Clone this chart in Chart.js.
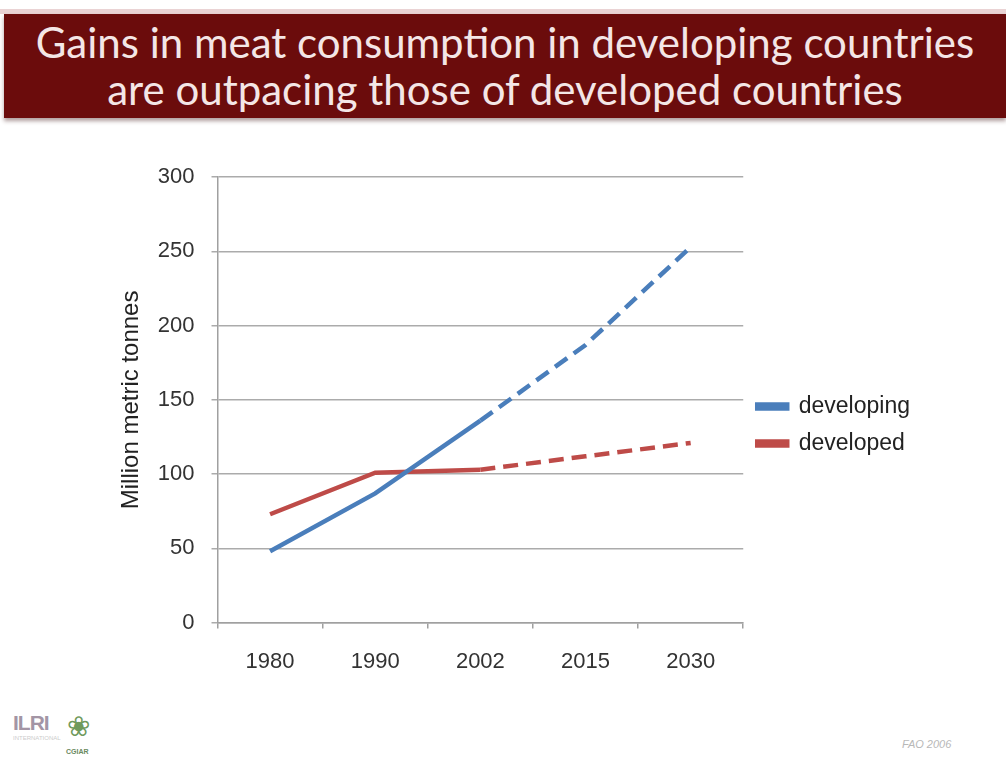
<!DOCTYPE html>
<html>
<head>
<meta charset="utf-8">
<script src="https://cdn.jsdelivr.net/npm/chart.js@4.4.0/dist/chart.umd.min.js"></script>
<style>
  body { margin: 0; width: 1006px; height: 765px; background: #fff; position: relative; overflow: hidden; font-family: "Liberation Sans", Arial, sans-serif; }
  #topline { position: absolute; left: 0; top: 9px; width: 1006px; height: 5px; background: #ead3d4; }
  #banner { position: absolute; left: 4px; top: 14px; width: 1002px; height: 104px; background: #6b0c0c;
            box-shadow: 0 3px 4px rgba(80,40,40,0.45); color: #f4e6e6; text-align: center;
            font-family: Lato, "Open Sans", sans-serif; font-size: 42px; line-height: 47px; padding-top: 5px; box-sizing: border-box; }
  #wrap { position: absolute; left: 117px; top: 147px; width: 803px; height: 548px; }
  #ilri { position: absolute; left: 13px; top: 711px; font: bold 21px "Liberation Sans", sans-serif; color: #a395a5; letter-spacing: -1px; }
  #ilri small { display: block; font-size: 6px; color: #ccc; font-weight: normal; letter-spacing: 0; }
  #cgiar { position: absolute; left: 66px; top: 748px; font: bold 7px "Liberation Sans", sans-serif; color: #6a8a60; }
  #leaf { position: absolute; left: 67px; top: 713px; font-size: 28px; color: #6f9a5c; line-height: 28px; }
  #src { position: absolute; left: 902px; top: 738px; font: italic 11px "Liberation Sans", sans-serif; color: #b8b8b8; }
</style>
</head>
<body>
<div id="topline"></div>
<div id="banner">Gains in meat consumption in developing countries<br>are outpacing those of developed countries</div>
<div id="wrap"><canvas id="chart"></canvas></div>
<div id="ilri">ILRI<small>INTERNATIONAL</small></div>
<div id="leaf">&#10048;</div>
<div id="cgiar">CGIAR</div>
<div id="src">FAO 2006</div>
<script>
const years = ['1980', '1990', '2002', '2015', '2030'];
const developing = [48, 87, 136, 187, 253];
const developed = [73, 101, 103, 112, 121];
const seriesNames = ['developing', 'developed'];

const blue = '#4a7ebb';
const red = '#be4b48';

// dashed from 2002 on (projections)
function projDash(ctx) {
  return ctx.p0DataIndex >= 2 ? [15, 8] : undefined;
}

const ctx = document.getElementById('chart').getContext('2d');
new Chart(ctx, {
  type: 'line',
  data: {
    labels: years,
    datasets: [
      { label: seriesNames[0], data: developing, borderColor: blue, backgroundColor: blue,
        borderWidth: 4.5, pointRadius: 0, tension: 0, segment: { borderDash: projDash } },
      { label: seriesNames[1], data: developed, borderColor: red, backgroundColor: red,
        borderWidth: 4.5, pointRadius: 0, tension: 0, segment: { borderDash: projDash } }
    ]
  },
  options: {
    responsive: true,
    maintainAspectRatio: false,
    animation: false,
    layout: { padding: 0 },
    scales: {
      x: {
        offset: true,
        grid: { offset: true, drawOnChartArea: false, drawTicks: true, tickLength: 6, color: '#a0a0a0', lineWidth: 1.5 },
        border: { display: true, color: '#a0a0a0', width: 1.5 },
        ticks: { color: '#333', font: { family: 'Liberation Sans', size: 22 }, padding: 20 }
      },
      y: {
        min: 0, max: 300,
        ticks: { stepSize: 50, color: '#333', font: { family: 'Liberation Sans', size: 22 }, padding: 17 },
        grid: { color: '#ababab', lineWidth: 1.5, tickLength: 6 },
        border: { display: true, color: '#a0a0a0', width: 1.5 },
        title: { display: true, text: 'Million metric tonnes', color: '#222', font: { family: 'Liberation Sans', size: 24 }, padding: { top: 0, bottom: -5 } }
      }
    },
    plugins: {
      tooltip: { enabled: false },
      legend: {
        position: 'right',
        title: { display: true, text: ' ', font: { size: 5 }, padding: { top: 0, bottom: 2 } },
        labels: { boxWidth: 30, boxHeight: 4, color: '#222', font: { family: 'Liberation Sans', size: 23 }, padding: 14 }
      }
    }
  }
});
</script>
</body>
</html>
